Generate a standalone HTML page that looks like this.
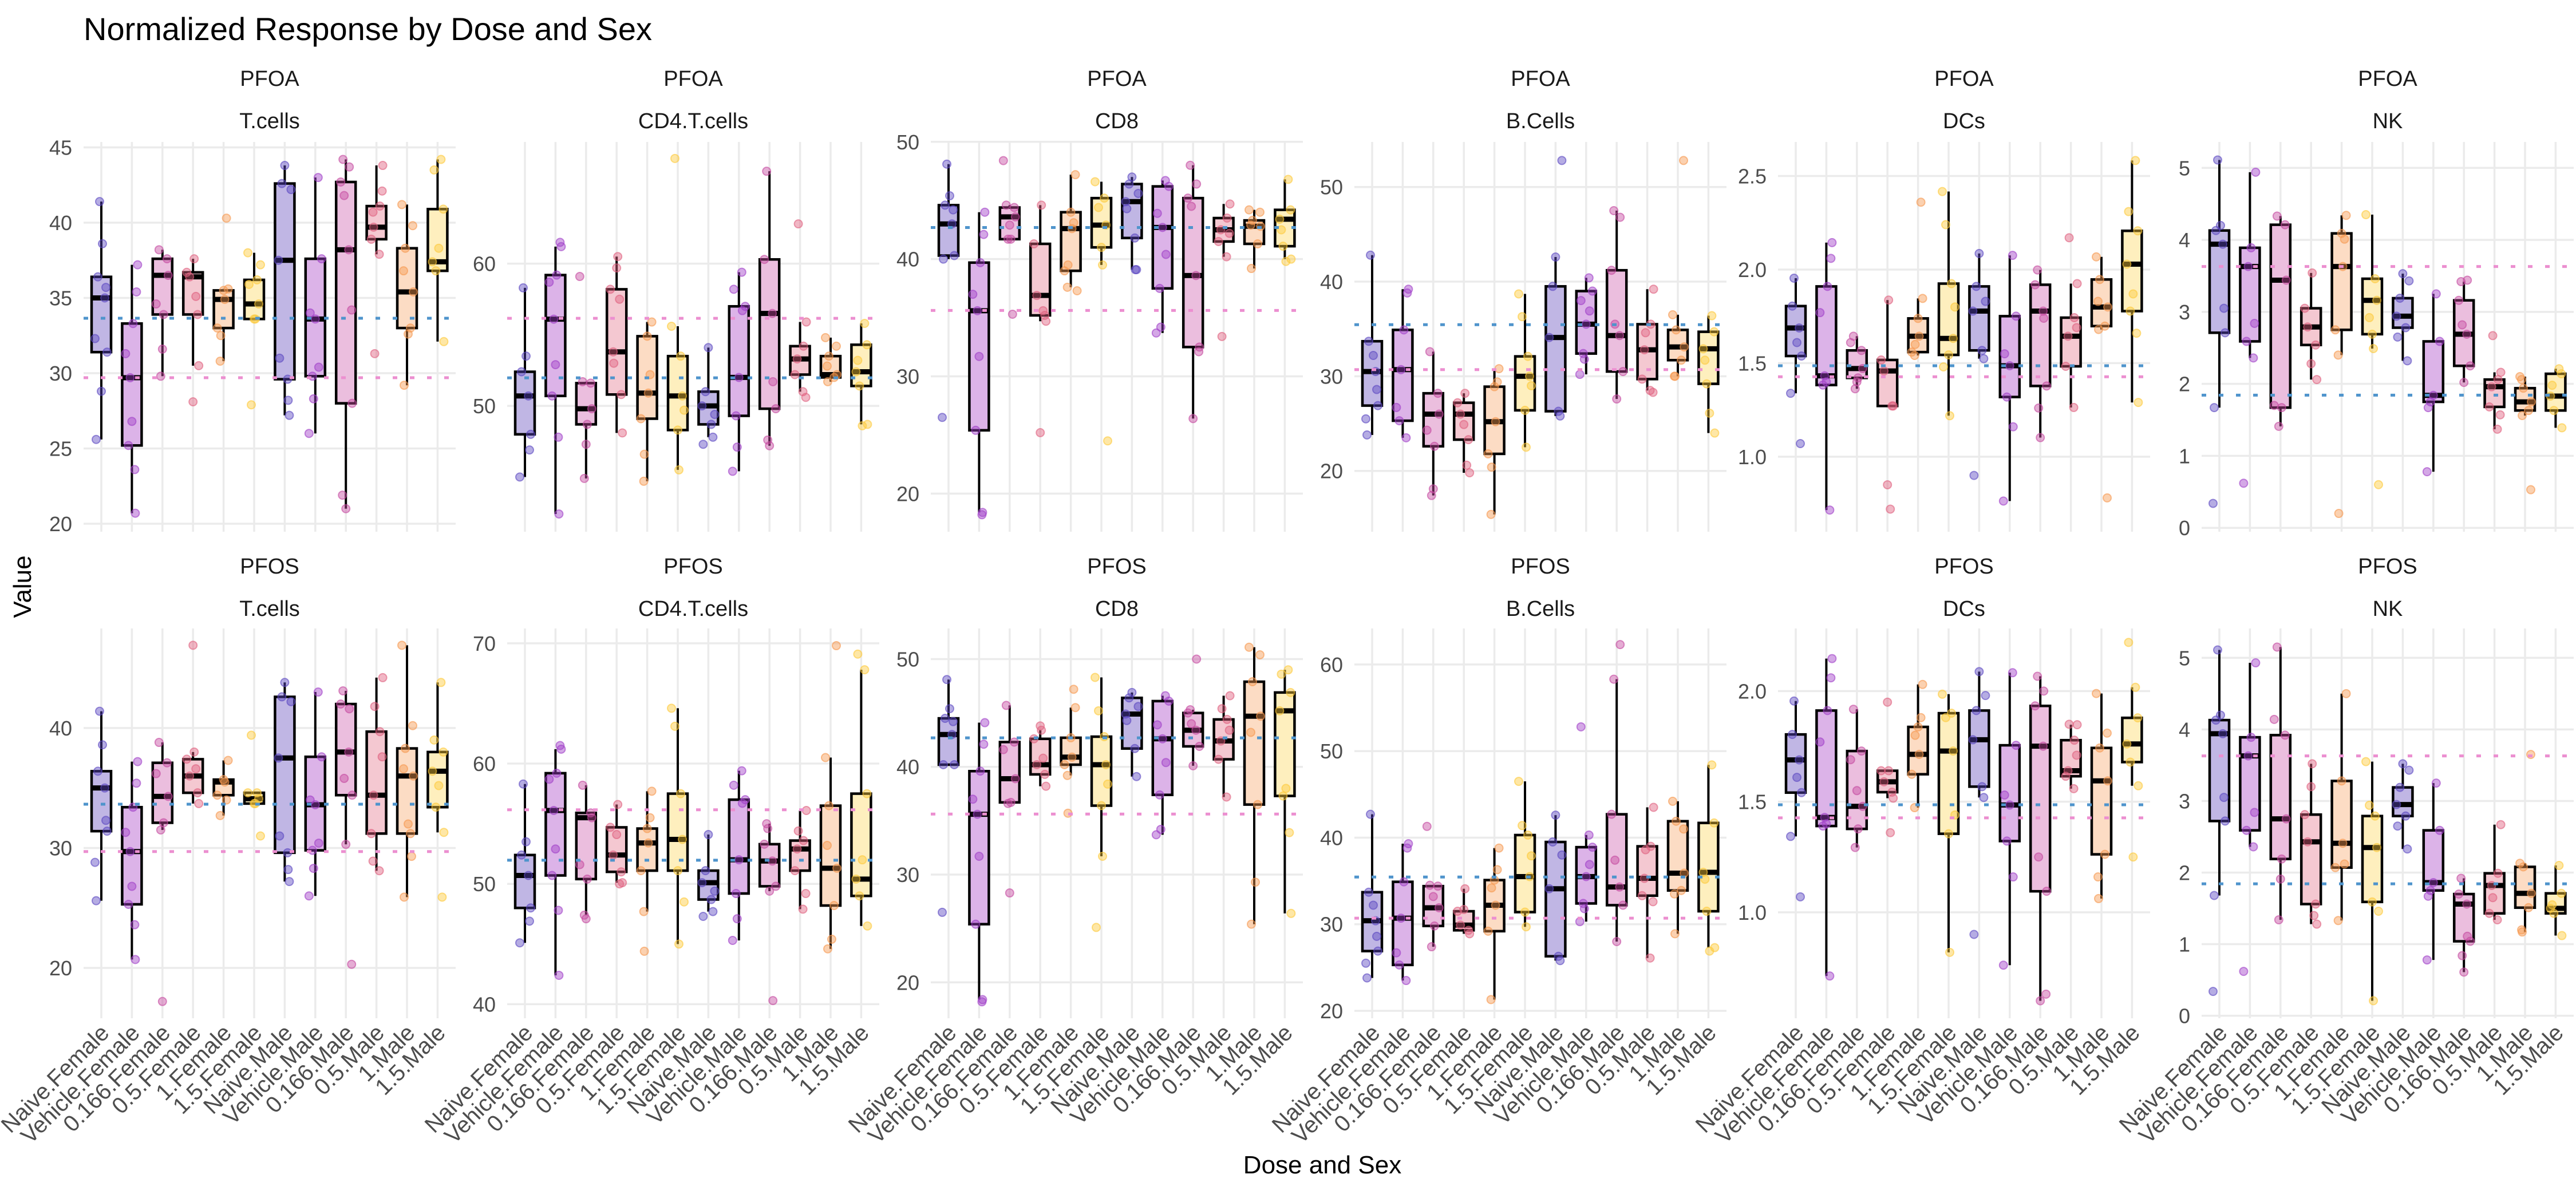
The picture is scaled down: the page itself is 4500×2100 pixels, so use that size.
<!DOCTYPE html>
<html><head><meta charset="utf-8"><title>Normalized Response by Dose and Sex</title>
<style>
html,body{margin:0;padding:0;background:#fff;}
svg{display:block;font-family:"Liberation Sans",Arial,sans-serif;}
</style></head>
<body>
<svg id="chart" width="4500" height="2100" viewBox="0 0 4500 2100" xmlns="http://www.w3.org/2000/svg">
<rect x="0" y="0" width="4500" height="2100" fill="#ffffff"/>
<text x="146" y="70" font-size="56" fill="#000">Normalized Response by Dose and Sex</text>
<text x="0" y="0" font-size="44" fill="#000" text-anchor="middle" transform="translate(54,1025) rotate(-90)">Value</text>
<text x="2310" y="2050" font-size="44" fill="#000" text-anchor="middle">Dose and Sex</text>
<g id="panels"></g>
</svg>
<script>
const categories = ["Naive.Female","Vehicle.Female","0.166.Female","0.5.Female","1.Female","1.5.Female","Naive.Male","Vehicle.Male","0.166.Male","0.5.Male","1.Male","1.5.Male"];
const chemicals = ["PFOA","PFOS"];
const cellTypes = ["T.cells","CD4.T.cells","CD8","B.Cells","DCs","NK"];
const refBlue = [33.65,51.97,42.69,35.45,1.486,1.843];
const refPink = [29.7,56.16,35.62,30.7,1.427,3.63];

// stats: [lowWhisker, q1, median, q3, highWhisker]
const statsPFOA_Tcells = [[25.6,31.4,35.0,36.4,41.4],[20.7,25.2,29.7,33.3,37.2],[29.8,33.9,36.5,37.6,38.2],[30.5,33.9,36.4,36.7,37.6],[30.8,33.0,34.9,35.5,35.6],[33.6,33.6,34.6,36.2,38.0],[27.2,29.6,37.5,42.6,43.8],[26.0,29.8,33.6,37.6,43.0],[21.0,28.0,38.2,42.7,44.2],[37.9,38.9,39.7,41.1,43.8],[29.2,33.0,35.4,38.3,41.2],[32.1,36.8,37.4,40.9,44.2]];
const extraPFOA_Tcells = [[38.6,35.7,32.3,28.8],[35.4,31.3,26.8,23.6],[34.6,31.6],[28.1,35.1],[40.3,32.5],[27.9,37.2,35.9],[42.2,31.0,28.2],[34.0,30.4,28.3],[43.7,41.8,34.2,21.9],[31.3,42.1,40.7],[39.8,36.8,32.6],[43.5,38.3]];
const statsPFOA_CD4 = [[45.0,48.0,50.7,52.4,58.3],[42.4,50.7,56.1,59.2,61.2],[44.9,48.7,49.8,51.6,51.7],[48.1,50.8,53.8,58.2,60.5],[44.7,49.1,50.9,54.9,55.9],[45.5,48.3,50.7,53.5,55.6],[47.8,48.7,50.0,51.0,54.1],[45.4,49.3,52.0,57.0,59.4],[47.2,49.8,56.5,60.3,66.5],[51.0,52.2,53.3,54.2,55.9],[51.7,52.0,52.2,53.5,54.8],[48.7,51.4,52.4,54.3,55.8]];
const extraPFOA_CD4 = [[53.5,46.9],[61.5,58.7,52.9,47.8],[59.1,47.3],[59.7,57.5,53.0],[52.2,46.6],[67.4,49.7],[49.4,47.3],[58.2,56.7,47.1],[51.7,47.6],[62.8,50.6],[54.2,52.8],[53.2,48.6]];
const statsPFOA_CD8 = [[40.0,40.3,43.0,44.6,48.1],[18.4,25.4,35.6,39.7,44.0],[41.7,41.7,43.6,44.4,44.6],[34.7,35.2,36.9,41.3,44.6],[37.6,39.0,42.6,44.0,47.2],[39.5,41.0,42.9,45.2,46.6],[39.1,41.8,44.9,46.4,47.0],[33.7,37.5,42.7,46.2,46.7],[26.4,32.5,38.6,45.2,48.0],[40.2,41.5,42.5,43.5,44.7],[39.2,41.3,42.8,43.3,44.2],[40.0,41.1,43.4,44.2,46.8]];
const extraPFOA_CD8 = [[45.4,44.2,26.5],[42.1,37.0,31.7,18.2],[48.4,42.9,35.3],[25.2,35.6],[43.1,39.5,37.3],[44.4,24.5],[45.6,44.3,39.1],[43.9,40.4,34.2],[46.4,44.5,32.1],[33.4,42.2],[44.0,42.9],[42.5,39.8]];
const statsPFOA_B = [[23.8,26.9,30.5,33.7,42.8],[23.5,25.3,30.7,34.9,39.2],[17.4,22.6,26.0,28.2,32.6],[19.8,23.3,26.0,27.2,28.2],[15.4,21.8,25.2,28.9,30.8],[22.5,26.4,30.0,32.1,38.7],[25.8,26.3,34.1,39.5,42.6],[30.2,32.4,35.5,39.0,40.4],[27.6,30.5,34.3,41.2,47.5],[28.5,29.7,32.8,35.5,39.2],[30.0,31.7,33.1,34.9,36.5],[24.0,29.2,32.9,34.7,36.4]];
const extraPFOA_B = [[32.2,28.6,25.5],[38.8,26.7],[24.3,18.1],[24.9,20.6],[29.4,20.4],[36.3,29.0],[52.8],[38.0,36.9,31.8],[46.8,35.5],[34.6,28.3],[52.8,30.0],[31.7,26.1]];
const statsPFOA_DC = [[1.339,1.538,1.688,1.805,1.954],[0.715,1.383,1.432,1.910,2.144],[1.363,1.421,1.471,1.568,1.644],[1.271,1.271,1.458,1.517,1.837],[1.541,1.559,1.644,1.739,1.846],[1.219,1.544,1.632,1.925,2.417],[1.524,1.568,1.778,1.910,2.086],[0.763,1.319,1.486,1.751,2.076],[1.102,1.378,1.778,1.919,1.998],[1.263,1.483,1.644,1.743,1.925],[1.680,1.698,1.800,1.947,2.068],[1.290,1.778,2.029,2.207,2.583]];
const extraPFOA_DC = [[1.61,1.07],[2.06,1.77,1.40],[1.61,1.40],[0.85,0.72],[2.36,1.60],[2.24,1.80,1.48],[1.83,0.90],[1.55,1.16],[1.74,1.26],[2.17,1.69],[0.78,1.83],[2.31,1.87,1.66]];
const statsPFOA_NK = [[1.67,2.71,3.94,4.13,5.11],[2.36,2.59,3.63,3.89,4.94],[1.41,1.67,3.44,4.21,4.33],[2.06,2.54,2.79,3.05,3.54],[2.40,2.75,3.63,4.09,4.34],[2.49,2.69,3.16,3.46,4.35],[2.32,2.78,2.94,3.19,3.53],[0.78,1.75,1.84,2.59,3.25],[2.02,2.25,2.69,3.16,3.42],[1.37,1.68,1.96,2.06,2.16],[1.56,1.63,1.75,1.94,2.10],[1.39,1.63,1.83,2.14,2.21]];
const extraPFOA_NK = [[4.20,3.05,0.34],[2.84,0.62],[1.70],[2.28],[4.01,0.20],[2.92,0.60],[3.43,2.65],[1.67],[3.44,2.82],[2.67,1.57],[0.53,2.06],[1.98]];
const statsPFOS_Tcells = [[25.6,31.4,35.0,36.4,41.4],[20.7,25.3,29.7,33.4,37.2],[31.5,32.1,34.3,37.1,38.8],[33.7,34.6,36.0,37.4,38.0],[32.7,34.4,35.5,35.7,37.3],[33.7,33.7,34.1,34.6,34.6],[27.2,29.6,37.5,42.6,43.8],[26.0,29.8,33.6,37.6,43.0],[30.3,34.4,38.0,42.0,43.1],[28.1,31.2,34.4,39.7,44.2],[25.9,31.2,36.0,38.3,46.9],[31.3,33.4,36.4,38.0,43.8]];
const extraPFOS_Tcells = [[38.6,32.3,28.8],[35.4,31.3,26.8,23.6],[36.2,17.2],[46.9,36.6],[34.0],[39.4,31.0],[42.2,31.0,28.2],[34.0,30.4,28.3],[41.6,35.8,20.3],[41.8,37.6,28.9],[40.2,36.6,32.0,29.3],[39.0,35.2,25.9]];
const statsPFOS_CD4 = [[45.1,48.0,50.7,52.4,58.3],[42.4,50.7,56.1,59.2,61.2],[47.4,50.4,55.5,55.9,58.2],[50.1,51.0,52.4,54.7,56.6],[47.7,51.1,53.4,54.6,57.7],[45.0,51.1,53.7,57.5,64.6],[47.7,48.7,50.1,51.1,54.1],[45.3,49.2,52.0,57.0,59.4],[49.4,49.8,51.9,53.3,55.0],[47.9,51.1,52.9,53.6,56.1],[44.6,48.2,51.3,56.5,60.5],[46.5,49.0,50.4,57.5,67.8]];
const extraPFOS_CD4 = [[53.5,46.9],[61.5,58.7,52.9,47.8],[51.6,47.1],[54.1,50.0],[55.5,44.4],[63.1,48.5],[49.4,47.3],[58.2,56.7,47.1],[40.3,54.6],[54.4,49.2],[69.8,53.2,45.4],[69.1,52.0]];
const statsPFOS_CD8 = [[40.2,40.2,43.0,44.5,48.1],[18.4,25.4,35.6,39.6,44.1],[36.6,36.7,38.9,42.3,45.7],[38.2,39.3,40.2,42.6,43.4],[39.2,40.2,40.9,42.7,45.5],[31.7,36.4,40.2,42.8,48.3],[39.1,41.7,44.9,46.4,46.9],[33.7,37.4,42.6,46.1,46.6],[40.1,41.9,43.4,45.0,45.3],[37.2,40.7,42.4,44.4,46.6],[25.4,36.5,44.7,47.9,51.1],[26.4,37.3,45.2,46.9,49.0]];
const extraPFOS_CD8 = [[45.4,44.2,26.5],[42.1,37.0,31.7,18.2],[41.6,28.3],[43.8,40.8],[47.2,35.7],[45.2,38.4,25.1],[45.6,44.3],[43.9,40.4,34.2],[50.0,44.0],[45.4,43.4],[50.4,43.2,29.3],[48.6,38.0,33.9]];
const statsPFOS_B = [[23.8,26.9,30.4,33.7,42.7],[23.5,25.3,30.7,34.9,39.3],[27.4,29.8,31.9,34.4,34.5],[28.9,29.3,29.9,31.5,34.1],[21.3,29.2,32.2,35.1,38.8],[29.7,31.4,35.5,40.3,46.5],[25.8,26.3,34.1,39.5,42.6],[30.3,32.4,35.5,38.9,40.3],[28.0,32.2,34.3,42.7,58.3],[26.1,33.3,35.3,39.0,43.5],[28.9,33.9,35.9,41.9,44.2],[27.3,31.5,36.0,41.7,48.4]];
const extraPFOS_B = [[32.2,28.6,25.5],[38.8,26.7],[41.3,33.2],[31.7],[36.3,34.2],[41.4,37.9],[38.0],[52.8,36.9,31.8],[62.3,37.4],[38.6,32.6],[41.0,33.5],[35.2,26.9]];
const statsPFOS_DC = [[1.343,1.541,1.689,1.804,1.955],[0.712,1.390,1.429,1.912,2.147],[1.293,1.377,1.479,1.729,1.918],[1.516,1.543,1.590,1.640,1.640],[1.473,1.624,1.714,1.838,2.030],[0.819,1.355,1.729,1.900,1.986],[1.519,1.568,1.780,1.912,2.088],[0.761,1.322,1.485,1.755,2.083],[0.600,1.095,1.751,1.933,2.067],[1.559,1.615,1.640,1.778,1.848],[1.062,1.262,1.594,1.743,1.989],[1.572,1.679,1.761,1.879,2.017]];
const extraPFOS_DC = [[1.61,1.07],[2.06,1.77,1.40],[1.69,1.55],[1.95,1.36],[1.88,1.80],[1.88,1.44],[1.98,0.90],[1.53,1.16],[2.00,1.25,0.63],[1.85,1.71],[1.81,1.16],[2.22,1.25]];
const statsPFOS_NK = [[1.68,2.72,3.94,4.13,5.11],[2.36,2.59,3.63,3.89,4.93],[1.34,2.19,2.75,3.92,5.15],[1.28,1.56,2.43,2.81,3.52],[1.33,2.07,2.41,3.28,4.50],[0.21,1.59,2.35,2.79,3.55],[2.33,2.79,2.95,3.19,3.52],[0.78,1.75,1.86,2.59,3.25],[0.61,1.04,1.56,1.70,1.92],[1.34,1.43,1.82,1.99,2.67],[1.17,1.51,1.71,2.08,2.13],[1.12,1.43,1.50,1.71,2.10]];
const extraPFOS_NK = [[4.20,3.05,0.34],[2.84,0.62],[4.14,1.91],[3.20,1.40],[2.12],[2.94,1.46],[3.43,2.65],[1.67],[1.11,0.84],[1.65],[3.65,1.20],[1.55]];

const tickLabels = [
 ["20","25","30","35","40","45"],["50","60"],["20","30","40","50"],["20","30","40","50"],["1.0","1.5","2.0","2.5"],["0","1","2","3","4","5"],
 ["20","30","40"],["40","50","60","70"],["20","30","40","50"],["20","30","40","50","60"],["1.0","1.5","2.0"],["0","1","2","3","4","5"]
];

const allStats = [statsPFOA_Tcells,statsPFOA_CD4,statsPFOA_CD8,statsPFOA_B,statsPFOA_DC,statsPFOA_NK,statsPFOS_Tcells,statsPFOS_CD4,statsPFOS_CD8,statsPFOS_B,statsPFOS_DC,statsPFOS_NK];
const allExtra = [extraPFOA_Tcells,extraPFOA_CD4,extraPFOA_CD8,extraPFOA_B,extraPFOA_DC,extraPFOA_NK,extraPFOS_Tcells,extraPFOS_CD4,extraPFOS_CD8,extraPFOS_B,extraPFOS_DC,extraPFOS_NK];
const domains = [[19.47,45.36],[41.15,68.56],[16.75,49.99],[13.57,54.76],[0.599,2.682],[-0.054,5.36],[15.8,48.3],[38.83,71.23],[16.67,52.84],[19.14,64.16],[0.521,2.283],[-0.035,5.41]];

const NS = "http://www.w3.org/2000/svg";
const lineCols = ["#5b48c2","#a03fc8","#c54aa0","#e0607e","#f6984f","#fdc93a"];
const fillCols = ["#c0b6e4","#dcb3e8","#ebbede","#f4c8d1","#fcdcc4","#feefbe"];
const jit = [-9,6,-3,10,-6,2,8,-11,0,5,-5,11];
const root = document.getElementById("panels");
function el(tag, attrs, parent){ const e=document.createElementNS(NS,tag); for(const k in attrs) e.setAttribute(k,attrs[k]); (parent||root).appendChild(e); return e; }

for(let p=0;p<12;p++){
  const row = Math.floor(p/6), col = p%6;
  const left = 146+740*col, width = 650;
  const top = row===0?248:1098, bottom = row===0?929:1779;
  const [d0,d1] = domains[p];
  const y = v => bottom - (v-d0)/(d1-d0)*(bottom-top);
  const x = i => left+31+53.4*i;
  const g = el("g",{});
  
  
  const cx = left+width/2;
  const s1 = el("text",{x:cx,y:row===0?150:1002,"font-size":38,fill:"#1a1a1a","text-anchor":"middle"},g);
  s1.textContent = chemicals[row];
  
  
  const s2 = el("text",{x:cx,y:row===0?224:1076,"font-size":38,fill:"#1a1a1a","text-anchor":"middle"},g);
  s2.textContent = cellTypes[col];
  
  
  tickLabels[p].forEach(t=>{
    const v=parseFloat(t), yy=y(v);
    const gl = el("line",{x1:left,x2:left+width,y1:yy,y2:yy,stroke:"#ebebeb","stroke-width":3.5},g);
    
    
    const tl = el("text",{x:left-20,y:yy+13,"font-size":36,fill:"#4d4d4d","text-anchor":"end"},g);
    tl.textContent=t;
    
    
  });
  categories.forEach((c,i)=>{
    const vl = el("line",{x1:x(i),x2:x(i),y1:top,y2:bottom,stroke:"#ebebeb","stroke-width":3.5},g);
    
    
    if(row===1){
      const xl = el("text",{x:0,y:0,"font-size":40,fill:"#4d4d4d","text-anchor":"end",transform:`translate(${x(i)+16},${bottom+28}) rotate(-45)`},g);
      xl.textContent=c;
      
      
    }
  });
  allStats[p].forEach((s,i)=>{
    const ci=i%6, xx=x(i), bw=34;
    const bg = el("g",{},g);
    
    
    el("line",{x1:xx,x2:xx,y1:y(s[0]),y2:y(s[4]),stroke:"#000","stroke-width":4},bg);
    el("rect",{x:xx-bw/2,y:y(s[3]),width:bw,height:Math.max(1,y(s[1])-y(s[3])),fill:fillCols[ci],stroke:"#000","stroke-width":4.5},bg);
    el("line",{x1:xx-bw/2,x2:xx+bw/2,y1:y(s[2]),y2:y(s[2]),stroke:"#000","stroke-width":9},bg);
  });
  allStats[p].forEach((s,i)=>{
    const ci=i%6;
    const pts=[s[0],s[2],s[4],s[1],s[3]].concat(allExtra[p][i]);
    pts.forEach((v,k)=>{
      const pt = el("circle",{cx:x(i)+jit[(k+i)%12],cy:y(v),r:7,fill:lineCols[ci],"fill-opacity":0.45,stroke:lineCols[ci],"stroke-opacity":0.6,"stroke-width":2},g);
      
      
    });
  });
  const rb = el("line",{x1:left,x2:left+width,y1:y(refBlue[col]),y2:y(refBlue[col]),stroke:"#4f94cc","stroke-width":5,"stroke-dasharray":"8 22"},g);
  
  
  const rp = el("line",{x1:left,x2:left+width,y1:y(refPink[col]),y2:y(refPink[col]),stroke:"#ec8fd0","stroke-width":5,"stroke-dasharray":"8 22"},g);
  
  
}
</script>
</body></html>
